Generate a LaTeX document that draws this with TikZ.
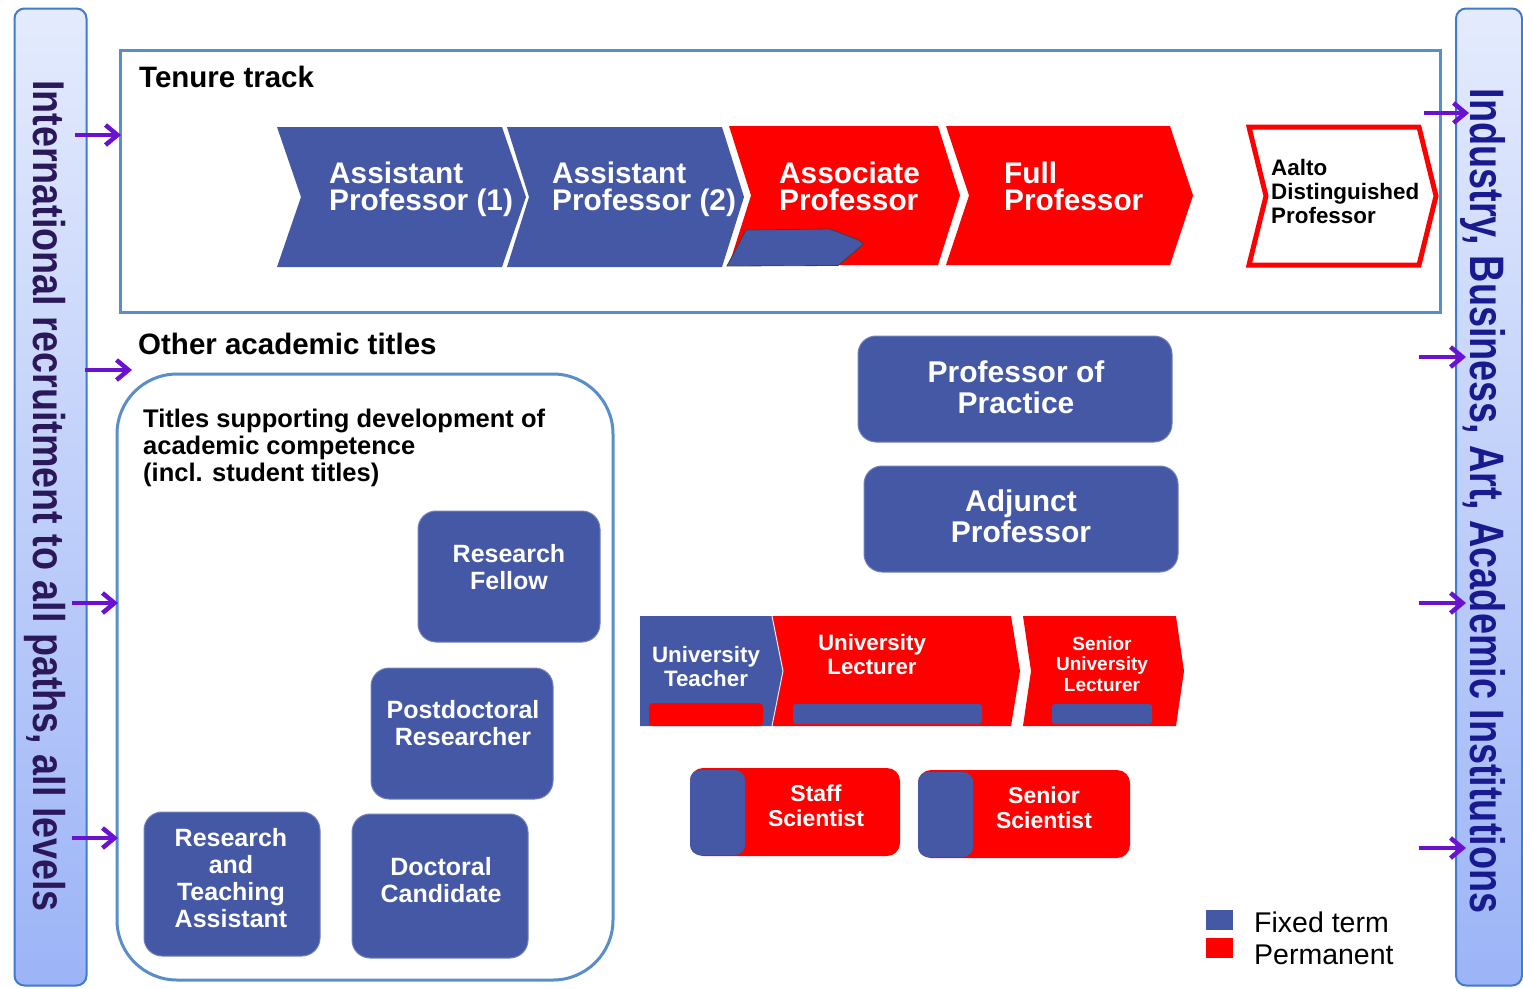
\documentclass[tikz,border=0pt]{standalone}
\usepackage{fontspec}
\setmainfont{Liberation Sans}
\usepackage{graphicx}
\usetikzlibrary{arrows.meta}
\definecolor{fblue}{HTML}{4458A6}
\definecolor{pred}{HTML}{FF0000}
\definecolor{frameblue}{HTML}{5A8DCB}
\definecolor{sideborder}{HTML}{3F7BCB}
\definecolor{sidetop}{HTML}{E4EBFD}
\definecolor{sidebot}{HTML}{9CB4F7}
\definecolor{arrowpurple}{HTML}{6A12CF}
\definecolor{lefttext}{HTML}{2A185A}
\definecolor{righttext}{HTML}{1A1A90}
\newcommand{\fsz}[2]{\fontsize{#1}{#2}\selectfont}
% chevron: style, xl, xr, yt, yb, d
\newcommand{\chevronpath}[6]{%
  \path[#1] (#2,#4) -- (#3,#4) -- ({#3+#6},{(#4+#5)/2}) -- (#3,#5) -- (#2,#5) -- ({#2+#6},{(#4+#5)/2}) -- cycle;}
\tikzset{
  sidebar/.style={draw=sideborder, line width=2pt, rounded corners=10pt, top color=sidetop, bottom color=sidebot, minimum width=72pt, minimum height=977pt, inner sep=0pt},
  frame/.style={draw=frameblue, line width=3pt, fill=white},
  pur/.style={draw=arrowpurple, line width=4.5pt, -{Straight Barb[length=12pt,width=20pt,line width=4.5pt]}},
  titletxt/.style={font=\bfseries\fsz{29.5}{30}, anchor=base west, inner sep=0pt},
  chevtxt/.style={font=\bfseries\fsz{29.8}{27}, text=white, align=left, anchor=base west, inner sep=0pt},
  bbox/.style={fill=fblue, draw=fblue!75!white, line width=1pt, rounded corners=18pt, inner sep=0pt},
  btxt/.style={font=\bfseries\fsz{25}{27}, text=white, align=center, anchor=base, inner sep=0pt},
  bigtxt/.style={font=\bfseries\fsz{30}{31.5}, text=white, align=center, anchor=base, inner sep=0pt},
  utxt/.style={font=\bfseries\fsz{22.3}{24}, text=white, align=center, anchor=base, inner sep=0pt},
  legtxt/.style={font=\fsz{28.5}{30}, anchor=base west, inner sep=0pt},
}
\begin{document}
\begin{tikzpicture}[x=1pt,y=-1pt]
\useasboundingbox[fill=white] (0,0) rectangle (1523,988);

% side bars
\node[sidebar] (lside) at (50.5,497) {};
\node[sidebar, minimum width=66pt] (rside) at (1489,497) {};
\node[rotate=-90, anchor=base, inner sep=0pt, text=lefttext, font=\bfseries\fsz{37.7}{40}] (ltext) at (33,496)
  {\scalebox{1}[1.18]{International recruitment to all paths, all levels}};
\node[rotate=-90, anchor=base, inner sep=0pt, text=righttext, font=\bfseries\fsz{37.8}{40}] (rtext) at (1470,501)
  {\scalebox{1}[1.28]{Industry, Business, Art, Academic Institutions}};

% tenure track frame
\node[frame, minimum width=1320pt, minimum height=262pt, inner sep=0pt] (tt) at (780,181) {};
\node[titletxt] (ttl) at (139,87) {Tenure track};

% chevrons
\chevronpath{fill=fblue}{277}{502}{127}{267}{24}
\chevronpath{fill=fblue}{507}{722}{127}{267}{22}
\chevronpath{fill=pred}{729}{938}{126}{265}{22}
\chevronpath{fill=pred}{946}{1170}{126}{265}{23}
\path[fill=fblue, draw=black!75, line width=0.8pt] (727,266) -- (746,230) -- (830,229) -- (856,239) .. controls (864,243) .. (860,247) -- (838,265.5) -- cycle;
\chevronpath{fill=white, draw=pred, line width=5pt}{1249}{1419}{127}{265}{17}

\node[chevtxt] (ap1) at (329,210) {Assistant\\Professor (1)};
\node[chevtxt] (ap2) at (552,210) {Assistant\\Professor (2)};
\node[chevtxt] (asp) at (779,210) {Associate\\Professor};
\node[chevtxt] (fp) at (1004,210) {Full\\Professor};
\node[font=\bfseries\fsz{22.4}{24}, align=left, anchor=base west, inner sep=0pt] (adp) at (1271,223) {Aalto\\Distinguished\\Professor};

% other academic titles
\node[titletxt] (oat) at (138,354) {Other academic titles};
\draw[draw=frameblue, line width=3pt, rounded corners=60pt] (117,374) rectangle (613,980);
\node[font=\bfseries\fsz{25.5}{27}, align=left, anchor=base west, inner sep=0pt] (tsd) at (143,481)
  {Titles supporting development of\\academic competence\\(incl. student titles)};

\node[bbox, minimum width=182pt, minimum height=131pt] (rfb) at (509,576.5) {};
\node[btxt] (rf) at (509,589) {Research\\Fellow};
\node[bbox, minimum width=182pt, minimum height=131pt] (pdb) at (462,733.5) {};
\node[btxt] (pd) at (463,745) {Postdoctoral\\Researcher};
\node[bbox, minimum width=176pt, minimum height=144pt] (rtb) at (232,884) {};
\node[btxt] (rt) at (231,927) {Research\\and\\Teaching\\Assistant};
\node[bbox, minimum width=176pt, minimum height=144pt] (dcb) at (440,886) {};
\node[btxt] (dc) at (441,902) {Doctoral\\Candidate};

\node[bbox, minimum width=314pt, minimum height=106pt] (ppb) at (1015,389) {};
\node[bigtxt] (pp) at (1016,413.5) {Professor of\\Practice};
\node[bbox, minimum width=314pt, minimum height=106pt] (ajb) at (1021,519) {};
\node[bigtxt] (aj) at (1021,542.5) {Adjunct\\Professor};

% university row
\path[fill=fblue] (640,616) -- (772,616) -- (783,671) -- (772,726) -- (640,726) -- cycle;
\path[fill=pred] (772,616) -- (1011,616) -- (1020,671) -- (1011,726) -- (772,726) -- (783,671) -- cycle;
\draw[white!85!fblue, line width=1pt] (772,616) -- (783,671) -- (772,726);
\path[fill=pred] (1023,616) -- (1176,616) -- (1184,671) -- (1176,726) -- (1023,726) -- (1031,671) -- cycle;
\path[fill=pred, rounded corners=4pt] (649,703) rectangle (763,726);
\path[fill=fblue, rounded corners=3pt] (793,704) rectangle (982,724);
\path[fill=fblue, rounded corners=3pt] (1052,704) rectangle (1152,724);
\node[utxt] (ut) at (706,686) {University\\Teacher};
\node[utxt] (ul) at (872,674) {University\\Lecturer};
\node[font=\bfseries\fsz{19}{20.5}, text=white, align=center, anchor=base, inner sep=0pt] (sul) at (1102,691) {Senior\\University\\Lecturer};

% scientists
\path[fill=pred, rounded corners=13pt] (690,768) rectangle (900,856);
\path[fill=fblue, rounded corners=10pt] (690,770) rectangle (745,855);
\node[font=\bfseries\fsz{23}{25}, text=white, align=center, anchor=base, inner sep=0pt] (ss) at (816,826) {Staff\\Scientist};
\path[fill=pred, rounded corners=13pt] (918,770) rectangle (1130,858);
\path[fill=fblue, rounded corners=10pt] (918,772) rectangle (973,857);
\node[font=\bfseries\fsz{23}{25}, text=white, align=center, anchor=base, inner sep=0pt] (sns) at (1044,828) {Senior\\Scientist};

% legend
\path[fill=fblue] (1206,910) rectangle (1233,930);
\path[fill=pred] (1206,938) rectangle (1233,958);
\node[legtxt] (lf) at (1254,932) {Fixed term};
\node[legtxt] (lp) at (1254,964) {Permanent};

% arrows
\coordinate (la1) at (75,135);  \coordinate (lb1) at (121,135);
\coordinate (la2) at (85,370);  \coordinate (lb2) at (132,370);
\coordinate (la3) at (72,603);  \coordinate (lb3) at (118,603);
\coordinate (la4) at (72,838);  \coordinate (lb4) at (118,838);
\coordinate (ra1) at (1424,113); \coordinate (rb1) at (1469,113);
\coordinate (ra2) at (1419,357); \coordinate (rb2) at (1466,357);
\coordinate (ra3) at (1419,603); \coordinate (rb3) at (1466,603);
\coordinate (ra4) at (1419,848); \coordinate (rb4) at (1466,848);
\foreach \i in {1,...,4} {
  \draw[pur] (la\i) -- (lb\i);
  \draw[pur] (ra\i) -- (rb\i);
}
\end{tikzpicture}
\end{document}
